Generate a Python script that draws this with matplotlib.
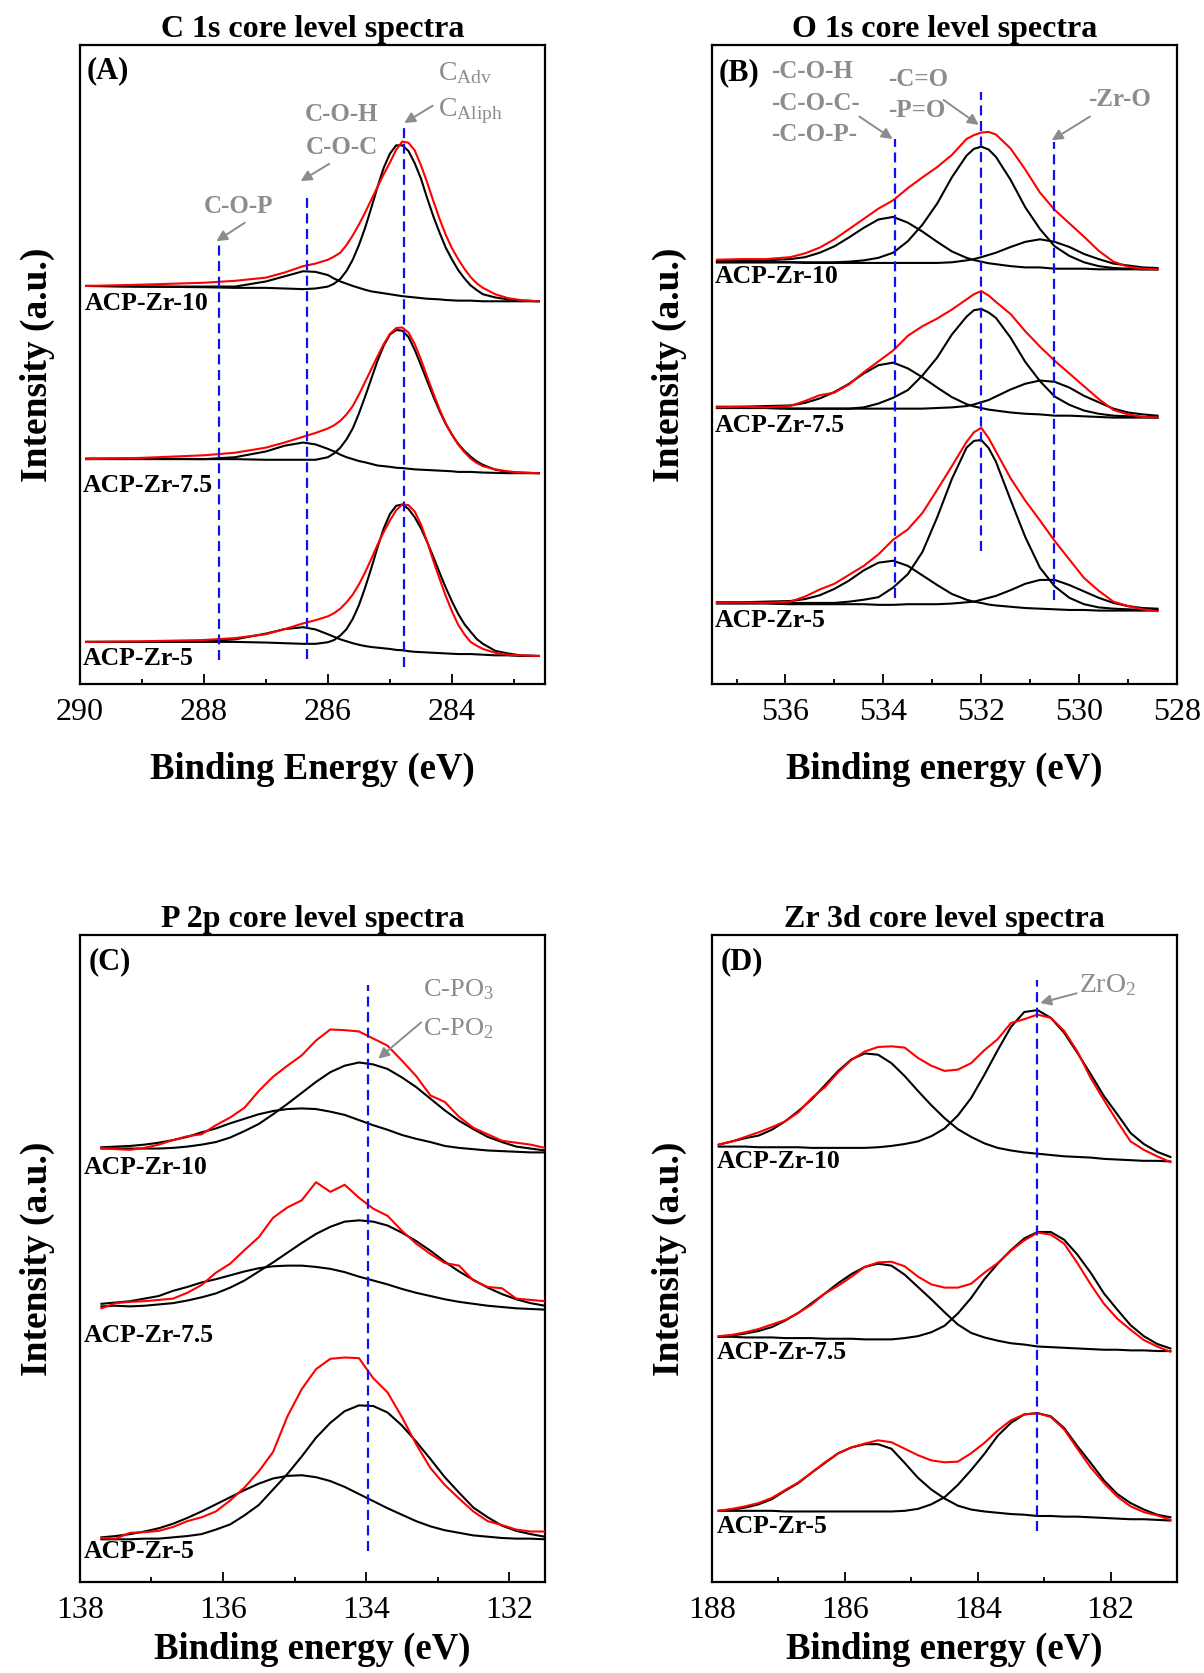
import matplotlib.pyplot as plt
from matplotlib.ticker import MultipleLocator

plt.rcParams['font.family'] = ['Liberation Serif', 'DejaVu Serif']
plt.rcParams['mathtext.fontset'] = 'custom'
plt.rcParams['mathtext.rm'] = 'Liberation Serif'
plt.rcParams['mathtext.it'] = 'Liberation Serif:italic'
plt.rcParams['mathtext.bf'] = 'Liberation Serif:bold'

# ---- (A) C 1s ----
a_ev = [289.9, 289.0, 288.0, 287.5, 287.0, 286.7, 286.4, 286.2, 286.0, 285.9, 285.8, 285.7, 285.6,
        285.5, 285.4, 285.3, 285.2, 285.1, 285.0, 284.9, 284.8, 284.7, 284.6, 284.5, 284.4, 284.3,
        284.2, 284.1, 284.0, 283.9, 283.8, 283.7, 283.6, 283.5, 283.3, 283.1, 282.9, 282.6]
a10_exp = [62.3, 62.5, 62.8, 63.1, 63.6, 64.4, 65.4, 65.8, 66.4, 66.9, 67.5, 68.7, 70.2,
           71.9, 73.8, 75.8, 77.8, 79.8, 81.6, 83.6, 84.9, 84.7, 83.5, 81.2, 78.5, 75.6,
           72.8, 70.3, 68.2, 66.5, 65.0, 63.7, 62.7, 62.0, 61.0, 60.4, 60.1, 59.9]
a10_main = [62.3, 62.2, 62.1, 62.0, 62.0, 61.9, 61.8, 61.9, 62.2, 62.65, 63.4, 64.65, 66.4,
            68.7, 71.4, 74.55, 77.8, 80.8, 83.0, 84.3, 84.3, 83.4, 81.5, 79.1, 76.05, 73.2,
            70.65, 68.3, 66.45, 64.8, 63.5, 62.4, 61.65, 61.0, 60.5, 60.2, 60.0, 59.9]
a10_coh = [62.3, 62.2, 62.2, 62.2, 63.0, 63.8, 64.6, 64.5, 64.0, 63.45, 63.0, 62.65, 62.3,
           62.0, 61.7, 61.45, 61.3, 61.15, 61.0, 60.85, 60.7, 60.6, 60.5, 60.4, 60.3, 60.25,
           60.2, 60.1, 60.05, 60.0, 60.0, 60.0, 59.95, 59.9, 59.9, 59.9, 59.9, 59.9]
a75_exp = [35.2, 35.4, 35.8, 36.2, 37.0, 37.8, 38.7, 39.3, 40.0, 40.5, 41.2, 42.2, 43.5,
           45.3, 47.3, 49.3, 51.3, 53.2, 54.8, 55.7, 55.8, 55.0, 53.2, 50.8, 48.1, 45.5,
           43.0, 40.8, 39.0, 37.5, 36.3, 35.3, 34.6, 34.1, 33.6, 33.3, 33.1, 33.0]
a75_main = [35.3, 35.3, 35.2, 35.2, 35.1, 35.1, 35.1, 35.1, 35.5, 36.1, 37.0, 38.3, 40.0,
            42.35, 45.0, 47.8, 50.6, 52.95, 54.7, 55.4, 55.3, 54.3, 52.3, 49.9, 47.45, 45.0,
            42.75, 40.7, 39.05, 37.6, 36.5, 35.6, 34.85, 34.3, 33.55, 33.2, 33.1, 33.0]
a75_coh = [35.2, 35.2, 35.2, 35.5, 36.4, 37.3, 37.8, 37.5, 36.8, 36.4, 35.9, 35.5, 35.2,
           34.9, 34.7, 34.45, 34.2, 34.1, 34.0, 33.85, 33.8, 33.7, 33.6, 33.55, 33.5, 33.45,
           33.4, 33.35, 33.3, 33.2, 33.2, 33.2, 33.15, 33.1, 33.05, 33.0, 33.0, 33.0]
a5_exp = [6.6, 6.7, 6.9, 7.2, 7.8, 8.6, 9.5, 10.0, 10.6, 11.1, 11.8, 12.8, 14.0,
          15.6, 17.5, 19.6, 21.8, 23.8, 25.6, 27.2, 28.1, 28.0, 27.0, 25.0, 22.3, 19.3,
          16.5, 13.8, 11.4, 9.3, 7.8, 6.6, 6.0, 5.5, 4.9, 4.6, 4.5, 4.4]
a5_main = [6.6, 6.6, 6.6, 6.6, 6.5, 6.4, 6.3, 6.3, 6.55, 6.9, 7.6, 8.6, 10.2,
           12.35, 15.1, 18.15, 21.4, 24.35, 26.6, 27.9, 28.1, 27.4, 26.1, 24.4, 22.25, 19.9,
           17.45, 15.1, 12.95, 11.0, 9.4, 8.2, 7.05, 6.3, 5.2, 4.8, 4.5, 4.4]
a5_coh = [6.6, 6.6, 6.7, 7.0, 7.9, 8.6, 8.9, 8.55, 7.8, 7.4, 7.0, 6.7, 6.4,
          6.15, 5.95, 5.8, 5.7, 5.6, 5.5, 5.35, 5.3, 5.15, 5.05, 5.0, 4.95, 4.9,
          4.85, 4.8, 4.75, 4.7, 4.7, 4.7, 4.65, 4.6, 4.5, 4.5, 4.4, 4.4]
a_peaks = [287.75, 286.34, 284.78]
a_peak_top = [69.3, 76.1, 87.5]
a_peak_bottom = [3.7, 4.0, 2.7]

# ---- (B) O 1s ----
b_ev = [537.4, 536.9, 536.4, 535.9, 535.6, 535.3, 535.0, 534.7, 534.4, 534.1, 533.8, 533.5, 533.2, 532.9, 532.6,
        532.3, 532.15, 532.0, 531.85, 531.7, 531.4, 531.1, 530.8, 530.5, 530.2, 529.9, 529.6, 529.3, 529.0, 528.7, 528.4]
b10_exp = [66.4, 66.5, 66.5, 66.8, 67.4, 68.3, 69.6, 71.2, 72.8, 74.4, 75.7, 77.6, 79.3, 80.9, 82.8,
           85.3, 85.9, 86.3, 86.4, 86.0, 83.8, 80.5, 76.9, 74.2, 72.1, 70.0, 67.8, 66.1, 65.3, 65.0, 64.9]
b10_coh = [66.2, 66.2, 66.3, 66.5, 66.8, 67.5, 68.5, 69.9, 71.4, 72.7, 73.1, 72.2, 70.8, 69.2, 67.7,
           66.7, 66.35, 66.1, 65.85, 65.7, 65.4, 65.2, 65.2, 65.0, 65.0, 65.0, 64.9, 64.9, 64.9, 64.9, 64.9]
b10_main = [66.0, 66.0, 66.0, 66.0, 66.0, 66.0, 66.0, 66.1, 66.3, 66.7, 67.5, 69.3, 71.9, 75.2, 79.3,
            82.7, 83.75, 84.1, 83.65, 82.5, 78.9, 74.6, 71.2, 68.5, 67.0, 66.0, 65.4, 65.1, 65.0, 64.9, 64.9]
b10_zro = [66.0, 66.0, 66.0, 66.0, 65.9, 65.9, 65.9, 65.9, 65.9, 65.9, 65.9, 65.9, 65.9, 65.9, 66.0,
           66.3, 66.5, 66.8, 67.15, 67.5, 68.4, 69.2, 69.6, 69.2, 68.4, 67.3, 66.5, 65.8, 65.5, 65.2, 65.1]
b75_exp = [43.3, 43.4, 43.3, 43.5, 44.3, 45.2, 45.6, 46.9, 48.8, 50.5, 52.2, 54.5, 56.0, 57.2, 58.6,
           60.2, 61.0, 61.5, 60.8, 59.8, 57.9, 55.2, 52.8, 50.6, 48.6, 46.6, 44.6, 42.9, 42.2, 41.8, 41.7]
b75_coh = [43.4, 43.4, 43.5, 43.6, 44.0, 44.7, 45.7, 47.0, 48.6, 49.9, 50.3, 49.4, 48.0, 46.4, 44.9,
           43.8, 43.45, 43.2, 42.95, 42.8, 42.5, 42.3, 42.2, 42.0, 42.0, 41.9, 41.8, 41.7, 41.7, 41.7, 41.7]
b75_main = [43.2, 43.2, 43.2, 43.1, 43.1, 43.1, 43.1, 43.1, 43.3, 43.9, 44.8, 46.0, 48.3, 51.1, 54.7,
            57.5, 58.5, 58.7, 58.15, 57.3, 54.2, 50.4, 47.4, 45.0, 43.7, 42.8, 42.3, 42.0, 41.9, 41.8, 41.7]
b75_zro = [43.2, 43.2, 43.2, 43.1, 43.1, 43.1, 43.1, 43.1, 43.1, 43.1, 43.1, 43.1, 43.1, 43.2, 43.3,
           43.5, 43.75, 44.1, 44.45, 45.0, 46.1, 47.0, 47.5, 47.3, 46.4, 45.1, 44.1, 43.1, 42.5, 42.2, 42.0]
b5_exp = [12.7, 12.8, 12.7, 12.9, 13.7, 14.8, 15.7, 17.1, 18.5, 20.3, 22.6, 24.2, 26.8, 30.4, 34.1,
          37.9, 39.4, 40.1, 38.5, 36.4, 32.2, 28.7, 25.6, 22.4, 19.5, 16.6, 14.6, 12.9, 12.2, 11.7, 11.4]
b5_coh = [12.7, 12.8, 12.9, 13.0, 13.3, 13.9, 14.9, 16.2, 17.8, 19.0, 19.3, 18.5, 17.0, 15.5, 14.1,
          13.2, 12.9, 12.7, 12.45, 12.3, 12.1, 11.9, 11.8, 11.7, 11.6, 11.6, 11.5, 11.5, 11.5, 11.5, 11.5]
b5_main = [12.8, 12.8, 12.8, 12.7, 12.7, 12.7, 12.7, 12.9, 13.2, 13.6, 15.1, 17.2, 20.7, 26.1, 32.1,
           37.0, 38.05, 38.2, 36.95, 34.8, 28.8, 23.0, 18.2, 15.3, 13.5, 12.5, 12.0, 11.8, 11.7, 11.6, 11.6]
b5_zro = [12.6, 12.6, 12.6, 12.5, 12.5, 12.5, 12.5, 12.5, 12.5, 12.4, 12.4, 12.5, 12.5, 12.5, 12.6,
          12.8, 12.9, 13.2, 13.5, 13.8, 14.7, 15.7, 16.3, 16.3, 15.5, 14.5, 13.5, 12.7, 12.2, 11.9, 11.8]
b_peaks = [533.77, 532.01, 530.51]
b_peak_top = [85.3, 92.7, 84.9]
b_peak_bottom = [13.4, 20.9, 13.1]

# ---- (C) P 2p ----
c_ev = [137.7, 137.5, 137.3, 137.1, 136.9, 136.7, 136.5, 136.3, 136.1, 135.9, 135.7, 135.5, 135.3, 135.1, 134.9, 134.7,
        134.5, 134.3, 134.1, 133.9, 133.7, 133.5, 133.3, 133.1, 132.9, 132.7, 132.5, 132.3, 132.1, 131.9, 131.7, 131.5]
c10_exp = [67.1, 66.9, 66.8, 67.1, 67.6, 68.3, 68.9, 69.2, 70.6, 71.8, 73.3, 75.9, 78.1, 79.8, 81.4, 83.7,
           85.4, 85.3, 85.1, 84.0, 82.9, 80.6, 78.2, 75.2, 74.2, 71.9, 70.2, 69.2, 68.2, 67.9, 67.6, 67.1]
c10_po2 = [67.0, 67.0, 67.0, 67.0, 67.0, 67.1, 67.3, 67.6, 68.0, 68.7, 69.7, 70.8, 72.3, 73.9, 75.6, 77.3,
           78.8, 79.8, 80.3, 80.0, 79.3, 78.0, 76.5, 74.7, 72.9, 71.3, 70.0, 68.8, 68.0, 67.3, 67.0, 66.7]
c10_po3 = [67.2, 67.3, 67.4, 67.6, 67.9, 68.3, 68.8, 69.5, 70.1, 70.9, 71.6, 72.3, 72.8, 73.1, 73.2, 73.1,
           72.7, 72.2, 71.4, 70.6, 69.9, 69.1, 68.5, 68.0, 67.4, 67.1, 66.9, 66.7, 66.6, 66.5, 66.4, 66.4]
c75_exp = [42.3, 43.1, 43.3, 43.4, 43.6, 43.8, 44.7, 45.9, 47.8, 49.2, 51.3, 53.3, 56.3, 57.9, 59.0, 61.8,
           60.3, 61.4, 59.4, 57.7, 56.6, 54.3, 52.3, 50.7, 49.3, 48.9, 46.6, 45.6, 45.4, 43.8, 43.6, 43.4]
c75_po2 = [42.6, 42.7, 42.6, 42.7, 42.9, 43.1, 43.5, 44.0, 44.6, 45.5, 46.6, 48.0, 49.4, 50.9, 52.4, 53.8,
           54.9, 55.7, 55.9, 55.7, 55.1, 54.0, 52.7, 51.2, 49.5, 48.0, 46.7, 45.5, 44.5, 43.7, 43.1, 42.7]
c75_po3 = [43.0, 43.2, 43.4, 43.8, 44.2, 45.0, 45.6, 46.3, 46.8, 47.4, 48.0, 48.5, 48.8, 48.9, 48.9, 48.7,
           48.4, 47.9, 47.2, 46.6, 46.0, 45.3, 44.7, 44.2, 43.7, 43.3, 43.0, 42.7, 42.5, 42.3, 42.2, 42.1]
c5_exp = [6.8, 6.7, 7.6, 7.7, 7.9, 8.5, 9.4, 10.0, 10.9, 12.6, 14.6, 17.1, 20.1, 25.6, 29.8, 32.9,
          34.5, 34.7, 34.6, 31.5, 29.3, 25.5, 21.3, 17.6, 15.0, 12.9, 10.9, 9.4, 8.8, 8.1, 7.8, 7.8]
c5_po2 = [6.6, 6.6, 6.6, 6.7, 6.7, 6.9, 7.1, 7.4, 8.1, 8.9, 10.3, 11.9, 14.3, 16.7, 19.4, 22.3,
          24.6, 26.4, 27.3, 27.2, 26.2, 24.2, 21.7, 19.0, 16.2, 13.8, 11.5, 10.0, 8.7, 7.9, 7.4, 7.0]
c5_po3 = [6.9, 7.1, 7.4, 7.8, 8.3, 9.0, 9.9, 10.9, 12.0, 13.1, 14.2, 15.2, 16.0, 16.4, 16.5, 16.2,
          15.6, 14.7, 13.6, 12.5, 11.4, 10.4, 9.4, 8.6, 8.0, 7.6, 7.2, 7.0, 6.8, 6.7, 6.7, 6.6]
c_peaks = [133.97]
c_peak_top = [92.3]
c_peak_bottom = [4.8]

# ---- (D) Zr 3d ----
d_ev = [187.9, 187.7, 187.5, 187.3, 187.1, 186.9, 186.7, 186.5, 186.3, 186.1, 185.9, 185.7, 185.5, 185.3, 185.1, 184.9, 184.7, 184.5,
        184.3, 184.1, 183.9, 183.7, 183.5, 183.3, 183.1, 182.9, 182.7, 182.5, 182.3, 182.1, 181.9, 181.7, 181.5, 181.3, 181.1]
d10_exp = [67.6, 68.1, 68.8, 69.5, 70.3, 71.2, 72.6, 74.8, 76.5, 78.8, 80.7, 82.0, 82.7, 82.8, 82.6, 81.0, 79.8, 79.0,
           79.2, 80.2, 82.2, 83.9, 86.4, 87.0, 87.7, 87.2, 85.2, 82.0, 77.9, 74.5, 71.2, 68.1, 66.8, 65.8, 64.9]
d10_p32 = [67.6, 68.1, 68.6, 69.0, 69.9, 71.2, 72.8, 74.6, 76.8, 79.0, 80.8, 81.7, 81.5, 80.2, 78.2, 75.9, 73.7, 71.7,
           70.0, 68.8, 67.8, 67.1, 66.7, 66.4, 66.2, 66.0, 65.8, 65.7, 65.6, 65.4, 65.3, 65.2, 65.1, 65.1, 65.0]
d10_p52 = [67.3, 67.3, 67.3, 67.2, 67.2, 67.2, 67.2, 67.1, 67.1, 67.1, 67.1, 67.1, 67.2, 67.4, 67.7, 68.1, 68.9, 70.1,
           72.1, 74.8, 78.4, 82.2, 85.8, 88.1, 88.4, 87.2, 84.9, 81.8, 78.5, 75.1, 72.3, 69.4, 67.7, 66.5, 65.7]
d75_exp = [38.0, 38.2, 38.6, 39.1, 39.8, 40.5, 41.6, 42.9, 44.6, 45.8, 47.2, 48.7, 49.4, 49.5, 48.8, 47.2, 46.0, 45.5,
           45.5, 46.1, 47.8, 49.3, 51.2, 52.8, 54.0, 53.7, 52.3, 49.3, 46.0, 43.0, 40.7, 39.0, 37.4, 36.4, 35.6]
d75_p32 = [37.9, 38.1, 38.4, 38.8, 39.4, 40.4, 41.6, 43.1, 44.6, 46.2, 47.6, 48.7, 49.2, 48.9, 47.5, 45.6, 43.7, 41.7,
           39.8, 38.5, 37.8, 37.3, 36.9, 36.7, 36.4, 36.3, 36.2, 36.1, 36.0, 35.9, 35.9, 35.8, 35.8, 35.7, 35.7]
d75_p52 = [37.9, 37.9, 37.8, 37.8, 37.8, 37.7, 37.7, 37.7, 37.6, 37.6, 37.6, 37.5, 37.5, 37.5, 37.7, 38.0, 38.6, 39.6,
           41.5, 43.9, 46.8, 49.2, 51.3, 53.1, 54.1, 54.1, 52.9, 50.6, 47.8, 44.6, 42.1, 39.7, 38.0, 36.8, 36.1]
d5_exp = [11.0, 11.3, 11.7, 12.2, 13.0, 14.2, 15.4, 16.9, 18.5, 19.9, 20.8, 21.4, 21.9, 21.6, 20.6, 19.6, 18.8, 18.5,
          18.6, 19.9, 21.5, 23.4, 25.0, 25.9, 26.1, 25.5, 23.6, 20.6, 17.7, 15.3, 13.2, 11.7, 10.8, 10.3, 9.6]
d5_p32 = [11.0, 11.2, 11.5, 12.0, 12.8, 14.1, 15.3, 16.9, 18.4, 19.9, 20.8, 21.3, 21.3, 20.6, 18.4, 16.1, 14.3, 12.9,
          11.8, 11.2, 10.9, 10.7, 10.5, 10.4, 10.2, 10.2, 10.1, 10.1, 10.0, 9.9, 9.8, 9.7, 9.7, 9.6, 9.5]
d5_p52 = [11.0, 11.0, 11.0, 11.0, 11.0, 10.9, 10.9, 10.9, 10.9, 10.9, 10.9, 10.9, 10.9, 10.9, 11.0, 11.3, 12.0, 13.1,
          15.0, 17.3, 19.8, 22.6, 24.6, 25.9, 26.1, 25.6, 23.8, 21.0, 18.4, 15.7, 13.6, 12.2, 11.2, 10.4, 10.0]
d_peaks = [183.11]
d_peak_top = [93.0]
d_peak_bottom = [7.9]

samples = ["ACP-Zr-10", "ACP-Zr-7.5", "ACP-Zr-5"]

GREY = '#8c8c8c'


def draw_panel(ax, ev, fits, exps, peaks, tops, bottoms, xlim, title, xlabel, tag, label_pos, xpad):
    # fitted components first (black), measured curves on top (red)
    for fit in fits:
        ax.plot(ev, fit, color='black', lw=1.5, zorder=2)
    for exp in exps:
        ax.plot(ev, exp, color='red', lw=1.5, zorder=3)
    ax.vlines(peaks, bottoms, tops, colors='#1010ee', linestyles=(0, (4.5, 2.5)), lw=1.6, zorder=4)

    ax.set_xlim(*xlim)
    ax.set_ylim(0, 100)
    ax.set_yticks([])
    ax.xaxis.set_major_locator(MultipleLocator(2))
    ax.xaxis.set_minor_locator(MultipleLocator(1))
    ax.tick_params(axis='x', which='major', direction='in', length=7, width=1.3, labelsize=23, pad=10)
    ax.tick_params(axis='x', which='minor', direction='in', length=3.5, width=1.3)
    ax.tick_params(top=False, right=False, left=False)
    for sp in ax.spines.values():
        sp.set_linewidth(1.6)

    ax.set_title(title, fontsize=23, fontweight='bold', pad=6)
    ax.set_xlabel(xlabel, fontsize=26.5, fontweight='bold', labelpad=xpad)
    ax.set_ylabel("Intensity (a.u.)", fontsize=27, fontweight='bold', labelpad=18)

    ax.text(tag[1], tag[2], tag[0], fontsize=22, fontweight='bold', ha='left', va='center')
    for name, (x, y) in zip(samples, label_pos):
        ax.text(x, y, name, fontsize=18.5, fontweight='bold', ha='left', va='center')


def grey_arrow(ax, start, end):
    ax.annotate("", xy=end, xytext=start,
                arrowprops=dict(arrowstyle='-|>', color=GREY, lw=1.4, mutation_scale=16,
                                shrinkA=0, shrinkB=0))


fig = plt.figure(figsize=(12.04, 16.73), dpi=100)

ax_a = fig.add_axes([0.0664, 0.5911, 0.3862, 0.382])
ax_b = fig.add_axes([0.5914, 0.5911, 0.3862, 0.382])
ax_c = fig.add_axes([0.0664, 0.0544, 0.3862, 0.3867])
ax_d = fig.add_axes([0.5914, 0.0544, 0.3862, 0.3867])

# (A)
draw_panel(ax_a, a_ev,
           [a10_coh, a10_main, a75_coh, a75_main, a5_coh, a5_main],
           [a10_exp, a75_exp, a5_exp],
           a_peaks, a_peak_top, a_peak_bottom, (290, 282.5),
           "C 1s core level spectra", "Binding Energy (eV)", ("(A)", 289.9, 95.9),
           [(289.92, 59.5), (289.95, 31.0), (289.95, 4.0)], 18)
ax_a.text(287.44, 74.8, "C-O-P", color=GREY, fontsize=18, fontweight='bold', ha='center', va='center')
grey_arrow(ax_a, (287.34, 72.2), (287.8, 69.3))
ax_a.text(285.78, 89.1, "C-O-H", color=GREY, fontsize=18, fontweight='bold', ha='center', va='center')
ax_a.text(285.78, 83.9, "C-O-C", color=GREY, fontsize=18, fontweight='bold', ha='center', va='center')
grey_arrow(ax_a, (285.98, 81.4), (286.44, 78.7))
ax_a.text(284.22, 95.6, r"C$_{\mathrm{Adv}}$", color=GREY, fontsize=20, ha='left', va='center')
ax_a.text(284.22, 89.7, r"C$_{\mathrm{Aliph}}$", color=GREY, fontsize=20, ha='left', va='center')
grey_arrow(ax_a, (284.31, 90.5), (284.77, 87.8))

# (B)
draw_panel(ax_b, b_ev,
           [b10_coh, b10_main, b10_zro, b75_coh, b75_main, b75_zro, b5_coh, b5_main, b5_zro],
           [b10_exp, b75_exp, b5_exp],
           b_peaks, b_peak_top, b_peak_bottom, (537.5, 528),
           "O 1s core level spectra", "Binding energy (eV)", ("(B)", 537.36, 95.6),
           [(537.45, 63.8), (537.45, 40.4), (537.45, 10.0)], 18)
for txt, y in [("-C-O-H", 95.9), ("-C-O-C-", 90.9), ("-C-O-P-", 86.0)]:
    ax_b.text(536.29, y, txt, color=GREY, fontsize=18, fontweight='bold', ha='left', va='center')
grey_arrow(ax_b, (534.49, 88.8), (533.81, 85.3))
ax_b.text(533.9, 94.6, "-C=O", color=GREY, fontsize=18, fontweight='bold', ha='left', va='center')
ax_b.text(533.9, 89.7, "-P=O", color=GREY, fontsize=18, fontweight='bold', ha='left', va='center')
grey_arrow(ax_b, (532.77, 91.4), (532.05, 87.5))
ax_b.text(529.82, 91.4, "-Zr-O", color=GREY, fontsize=18, fontweight='bold', ha='left', va='center')
grey_arrow(ax_b, (529.78, 88.8), (530.56, 85.1))

# (C)
draw_panel(ax_c, c_ev,
           [c10_po2, c10_po3, c75_po2, c75_po3, c5_po2, c5_po3],
           [c10_exp, c75_exp, c5_exp],
           c_peaks, c_peak_top, c_peak_bottom, (138, 131.5),
           "P 2p core level spectra", "Binding energy (eV)", ("(C)", 137.88, 95.9),
           [(137.95, 64.0), (137.95, 38.1), (137.95, 4.7)], 5)
ax_c.text(133.2, 91.6, r"C-PO$_3$", color=GREY, fontsize=19, ha='left', va='center')
ax_c.text(133.2, 85.6, r"C-PO$_2$", color=GREY, fontsize=19, ha='left', va='center')
grey_arrow(ax_c, (133.23, 86.5), (133.83, 80.9))

# (D)
draw_panel(ax_d, d_ev,
           [d10_p32, d10_p52, d75_p32, d75_p52, d5_p32, d5_p52],
           [d10_exp, d75_exp, d5_exp],
           d_peaks, d_peak_top, d_peak_bottom, (188, 181),
           "Zr 3d core level spectra", "Binding energy (eV)", ("(D)", 187.87, 95.9),
           [(187.93, 65.0), (187.93, 35.5), (187.93, 8.6)], 5)
ax_d.text(182.47, 92.2, r"ZrO$_2$", color=GREY, fontsize=20, ha='left', va='center')
grey_arrow(ax_d, (182.51, 91.0), (183.06, 89.5))

fig.savefig("out.png", dpi=100)
